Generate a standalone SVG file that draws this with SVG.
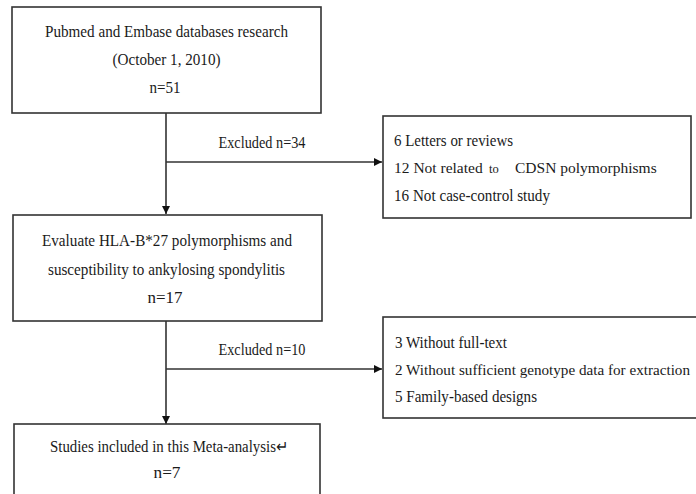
<svg xmlns="http://www.w3.org/2000/svg" width="696" height="494" viewBox="0 0 696 494">
<style>
text{font-family:"Liberation Serif","Times New Roman",serif;font-size:17px;fill:#1a1a1a}
.c{text-anchor:middle}
.box{fill:#fff;stroke:#333;stroke-width:1.6}
.ln{fill:none;stroke:#333;stroke-width:1.6}
.sm{font-size:12.5px}
</style>
<defs>
<marker id="ah" viewBox="0 0 10 10" refX="10" refY="5" markerWidth="8" markerHeight="8" markerUnits="userSpaceOnUse" orient="auto">
<path d="M0,0 L10,5 L0,10 z" fill="#111"/>
</marker>
</defs>
<rect width="696" height="494" fill="#fff"/>
<g id="connectors">
<line class="ln" x1="166" y1="113" x2="166" y2="214" marker-end="url(#ah)"/>
<line class="ln" x1="166" y1="162" x2="382" y2="162" marker-end="url(#ah)"/>
<line class="ln" x1="166" y1="321" x2="166" y2="424" marker-end="url(#ah)"/>
<line class="ln" x1="166" y1="369" x2="382" y2="369" marker-end="url(#ah)"/>
<text class="c" x="262" y="148" textLength="87" lengthAdjust="spacingAndGlyphs">Excluded n=34</text>
<text class="c" x="262" y="355" textLength="87" lengthAdjust="spacingAndGlyphs">Excluded n=10</text>
</g>
<g id="search">
<rect class="box" x="12" y="7" width="309" height="106"/>
<text class="c" x="166.5" y="37" textLength="243" lengthAdjust="spacingAndGlyphs">Pubmed and Embase databases research</text>
<text class="c" x="166.5" y="65" textLength="108" lengthAdjust="spacingAndGlyphs">(October 1, 2010)</text>
<text class="c" x="165" y="93" textLength="31" lengthAdjust="spacingAndGlyphs">n=51</text>
</g>
<g id="excluded1">
<rect class="box" x="383" y="116" width="308" height="102"/>
<text x="394" y="146" textLength="119" lengthAdjust="spacingAndGlyphs">6 Letters or reviews</text>
<text x="394" y="173" style="font-size:15.5px">12 Not related<tspan class="sm" x="489">to</tspan><tspan x="515">CDSN polymorphisms</tspan></text>
<text x="394" y="201" textLength="156" lengthAdjust="spacingAndGlyphs">16 Not case-control study</text>
</g>
<g id="evaluate">
<rect class="box" x="13" y="215" width="309" height="106"/>
<text class="c" x="167" y="246" textLength="250" lengthAdjust="spacingAndGlyphs">Evaluate HLA-B*27 polymorphisms and</text>
<text class="c" x="166.5" y="275" textLength="237" lengthAdjust="spacingAndGlyphs">susceptibility to ankylosing spondylitis</text>
<text class="c" x="165" y="303" textLength="35" lengthAdjust="spacingAndGlyphs">n=17</text>
</g>
<g id="excluded2">
<rect class="box" x="383" y="317" width="320" height="101"/>
<text x="395" y="348" textLength="112" lengthAdjust="spacingAndGlyphs">3 Without full-text</text>
<text x="395" y="375" style="font-size:15px" textLength="295" lengthAdjust="spacingAndGlyphs">2 Without sufficient genotype data for extraction</text>
<text x="395" y="402" textLength="142" lengthAdjust="spacingAndGlyphs">5 Family-based designs</text>
</g>
<g id="included">
<rect class="box" x="14" y="424" width="306" height="80"/>
<text class="c" x="169" y="452" style="font-size:16px" textLength="238" lengthAdjust="spacingAndGlyphs">Studies included in this Meta-analysis↵</text>
<text class="c" x="167" y="478" textLength="27" lengthAdjust="spacingAndGlyphs">n=7</text>
</g>
</svg>
